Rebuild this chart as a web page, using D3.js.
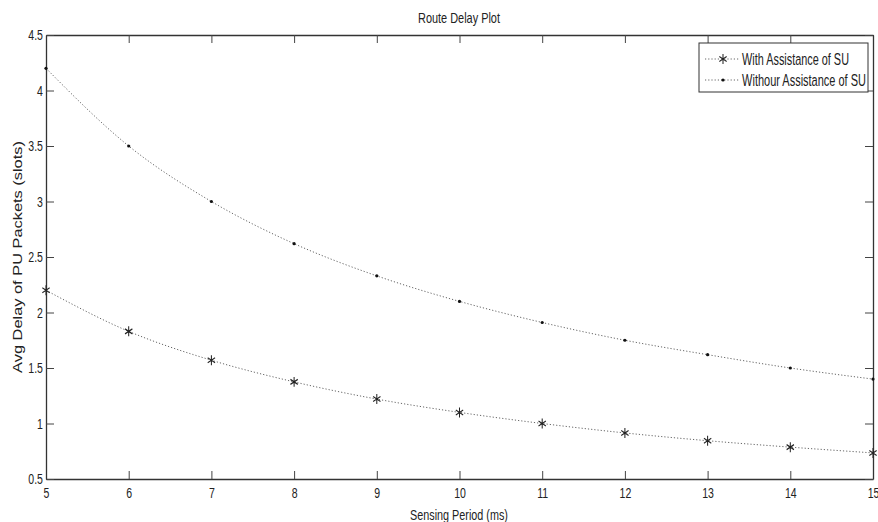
<!DOCTYPE html>
<html>
<head>
<meta charset="utf-8">
<script src="https://cdn.jsdelivr.net/npm/d3@7"></script>
<style>
  body { margin: 0; background: #fff; }
  text { font-family: "Liberation Sans", Arial, sans-serif; fill: #222; }
</style>
</head>
<body>
<div id="chart"></div>
<script>
// sensing period (ms)
const periods = [5, 6, 7, 8, 9, 10, 11, 12, 13, 14, 15];
// avg delay with assistance of SU
const withSU = [2.2, 1.83, 1.57, 1.375, 1.22, 1.1, 1.0, 0.915, 0.845, 0.787, 0.735];
// avg delay without assistance of SU
const withoutSU = [4.2, 3.5, 3.0, 2.62, 2.33, 2.1, 1.91, 1.75, 1.62, 1.5, 1.4];
const yTicks = [0.5, 1, 1.5, 2, 2.5, 3, 3.5, 4, 4.5];
const seriesNames = ["With Assistance of SU", "Withour Assistance of SU"];

const W = 878, H = 522;
const margin = { top: 35, right: 5, bottom: 43, left: 46 };
const width = W - margin.left - margin.right;
const height = H - margin.top - margin.bottom;

// the original figure is squeezed sideways, so text is narrow
const squeeze = 0.68;

const svg = d3.select("#chart").append("svg")
  .attr("width", W)
  .attr("height", H);

const g = svg.append("g")
  .attr("transform", "translate(" + margin.left + "," + margin.top + ")");

const x = d3.scaleLinear().domain([5, 15]).range([0, width]);
const y = d3.scaleLinear().domain([0.5, 4.5]).range([height, 0]);

// squeeze a text so it is 'len' px long, anchored at (tx, ty)
function narrowText(parent, str, tx, ty, size, len, rotate) {
  const t = parent.append("text")
    .attr("font-size", size)
    .attr("text-anchor", "middle")
    .text(str);
  const k = len / t.node().getComputedTextLength();
  t.attr("transform", "translate(" + tx + "," + ty + ")" + (rotate ? " rotate(-90)" : "") + " scale(" + k + ",1)");
  return t;
}

// axes with inward ticks (matlab style)
const tickLen = 8;
g.append("g")
  .attr("transform", "translate(0," + height + ")")
  .call(d3.axisBottom(x).tickValues(periods).tickSizeInner(-tickLen).tickSizeOuter(0).tickPadding(8).tickFormat(d3.format("d")));
g.append("g")
  .call(d3.axisTop(x).tickValues(periods).tickSizeInner(-tickLen).tickSizeOuter(0).tickFormat(""));
g.append("g")
  .call(d3.axisLeft(y).tickValues(yTicks).tickSizeInner(-tickLen).tickSizeOuter(0).tickPadding(4.5).tickFormat(d => d));
g.append("g")
  .attr("transform", "translate(" + width + ",0)")
  .call(d3.axisRight(y).tickValues(yTicks).tickSizeInner(-tickLen).tickSizeOuter(0).tickFormat(""));

g.selectAll(".domain").attr("stroke", "#333").attr("stroke-width", 1.3);
g.selectAll(".tick line").attr("stroke", "#444");
g.selectAll(".tick text")
  .attr("fill", "#222")
  .attr("font-family", null)
  .attr("font-size", 15.5)
  .attr("transform", "scale(" + squeeze + ",1)");

// smooth dotted curves
const line = d3.line()
  .x((d, i) => x(periods[i]))
  .y(d => y(d))
  .curve(d3.curveMonotoneX);

[withSU, withoutSU].forEach(vals => {
  g.append("path")
    .datum(vals)
    .attr("d", line)
    .attr("fill", "none")
    .attr("stroke", "#666")
    .attr("stroke-width", 1)
    .attr("stroke-dasharray", "1.2,2");
});

// star markers
const star = d3.symbol().type(d3.symbolAsterisk).size(70);
g.selectAll(".star")
  .data(withSU)
  .enter()
  .append("path")
  .attr("class", "star")
  .attr("transform", (d, i) => "translate(" + x(periods[i]) + "," + y(d) + ") scale(0.85,1)")
  .attr("d", star)
  .attr("fill", "none")
  .attr("stroke", "#222")
  .attr("stroke-width", 1.2);

// point markers
g.selectAll(".dot")
  .data(withoutSU)
  .enter()
  .append("circle")
  .attr("class", "dot")
  .attr("cx", (d, i) => x(periods[i]))
  .attr("cy", d => y(d))
  .attr("r", 1.6)
  .attr("fill", "#111");

// title and labels
narrowText(svg, "Route Delay Plot", 459, 23, 15, 82);
narrowText(svg, "Sensing Period (ms)", 459, 520, 15.5, 98);
narrowText(svg, "Avg Delay of PU Packets (slots)", 22, margin.top + height / 2, 13.5, 232, true);

// legend
const legend = svg.append("g").attr("transform", "translate(699,43)");
legend.append("rect")
  .attr("width", 169)
  .attr("height", 49)
  .attr("fill", "#fff")
  .attr("stroke", "#333")
  .attr("stroke-width", 1);

const legendWidths = [107, 124];
seriesNames.forEach((name, i) => {
  const ly = 16 + i * 21;
  legend.append("line")
    .attr("x1", 6).attr("x2", 41)
    .attr("y1", ly).attr("y2", ly)
    .attr("stroke", "#666")
    .attr("stroke-dasharray", "1.2,2");
  if (i === 0) {
    legend.append("path")
      .attr("transform", "translate(24," + ly + ") scale(0.85,1)")
      .attr("d", star)
      .attr("fill", "none")
      .attr("stroke", "#222")
      .attr("stroke-width", 1.2);
  } else {
    legend.append("circle")
      .attr("cx", 24).attr("cy", ly).attr("r", 1.6)
      .attr("fill", "#111");
  }
  narrowText(legend, name, 43 + legendWidths[i] / 2, ly + 5.5, 16.5, legendWidths[i]);
});
</script>
</body>
</html>
